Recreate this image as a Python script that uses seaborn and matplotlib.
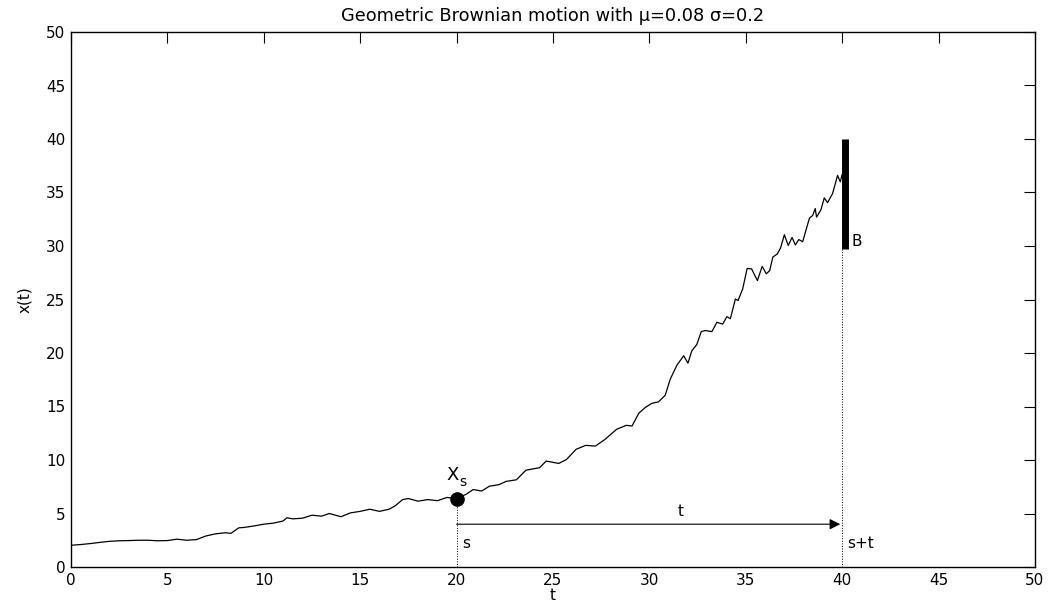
import numpy as np
import pandas as pd
import matplotlib
matplotlib.use("Agg")
import matplotlib.pyplot as plt
import seaborn as sns

# path
t_vals = [0, 0.5, 1, 1.5, 2, 2.5, 3, 3.5, 4, 4.5, 5, 5.5, 6, 6.5, 7, 7.5, 8, 8.3, 8.7, 9,
          9.5, 10, 10.5, 11, 11.2, 11.5, 12, 12.5, 13, 13.4, 14, 14.5, 15, 15.5, 16, 16.5,
          16.8, 17.2, 17.5, 18, 18.5, 19, 19.5, 20, 20.5, 20.86, 21.3, 21.7, 22.2, 22.57,
          23.1, 23.6, 24.3, 24.65, 25.3, 25.7, 26.2, 26.7, 27.2, 27.7, 28.3, 28.8, 29.1,
          29.45, 29.78, 30.13, 30.47, 30.82, 31.08, 31.43, 31.78, 32.0, 32.2, 32.46, 32.69,
          32.9, 33.24, 33.5, 33.8, 34.02, 34.2, 34.46, 34.6, 34.84, 35.07, 35.3, 35.6,
          35.85, 36.06, 36.24, 36.4, 36.64, 36.8, 37.0, 37.2, 37.4, 37.57, 37.75, 37.95,
          38.3, 38.47, 38.6, 38.67, 38.9, 39.07, 39.24, 39.5, 39.76, 39.9, 40.0]
x_vals = [2.03, 2.1, 2.19, 2.3, 2.4, 2.45, 2.47, 2.5, 2.5, 2.45, 2.47, 2.6, 2.5, 2.56, 2.9,
          3.1, 3.2, 3.15, 3.66, 3.7, 3.84, 4.0, 4.1, 4.3, 4.6, 4.5, 4.56, 4.84, 4.75, 5.0,
          4.7, 5.06, 5.2, 5.4, 5.2, 5.4, 5.7, 6.3, 6.4, 6.15, 6.3, 6.2, 6.5, 6.4, 6.8, 7.24,
          7.1, 7.55, 7.7, 8.0, 8.15, 9.05, 9.28, 9.9, 9.68, 10.05, 11.0, 11.37, 11.3, 11.93,
          12.87, 13.24, 13.18, 14.37, 14.9, 15.3, 15.43, 16.05, 17.55, 18.87, 19.74, 19.05,
          20.2, 20.8, 22.0, 22.1, 22.0, 22.87, 22.7, 23.4, 23.2, 25.05, 24.9, 26.0, 27.9,
          27.86, 26.77, 28.1, 27.4, 27.7, 28.96, 29.27, 29.8, 31.05, 30.05, 30.8, 30.1,
          30.6, 30.4, 32.6, 32.86, 33.5, 32.7, 33.4, 34.5, 34.05, 34.9, 36.6, 36.0, 36.7]

s_time = 20
s_value = 6.4
end_time = 40
barrier_low, barrier_high = 29.7, 40
arrow_level = 4.0
ticks = list(range(0, 55, 5))

sns.set_theme(style="white")
plt.rcParams['font.family'] = ['DejaVu Sans']
plt.rcParams['text.color'] = 'black'
plt.rcParams['axes.labelcolor'] = 'black'
plt.rcParams['xtick.color'] = 'black'
plt.rcParams['ytick.color'] = 'black'

fig = plt.figure(figsize=(10.57, 6.10), dpi=100)
ax = fig.add_axes([71 / 1057, 43 / 610, 964 / 1057, 535 / 610])

data = pd.DataFrame({"t": t_vals, "x": x_vals})
sns.lineplot(data=data, x="t", y="x", color="black", linewidth=0.9, ax=ax)

# point X_s and barrier B
ax.plot([s_time], [s_value], marker="o", markersize=9.5, color="black")
ax.plot([end_time + 0.12, end_time + 0.12], [barrier_low, barrier_high], color="black",
        linewidth=5, solid_capstyle="butt")
ax.plot([s_time, s_time], [0, s_value], color="black", linestyle=":", linewidth=0.7)
ax.plot([end_time, end_time], [0, barrier_low], color="black", linestyle=":", linewidth=0.7)
ax.annotate("", xy=(end_time - 0.1, arrow_level), xytext=(s_time, arrow_level),
            arrowprops=dict(arrowstyle="-|>", color="black", lw=0.8,
                            mutation_scale=16, shrinkA=0, shrinkB=0))

ax.text(s_time - 0.55, s_value + 1.35, "X", fontsize=13, ha="left", va="bottom")
ax.text(s_time + 0.15, s_value + 0.85, "s", fontsize=10, ha="left", va="bottom")
ax.text(31.6, arrow_level + 0.45, "t", fontsize=11, ha="center", va="bottom")
ax.text(s_time + 0.3, 2.2, "s", fontsize=11, ha="left", va="center")
ax.text(end_time + 0.25, 2.2, "s+t", fontsize=11, ha="left", va="center")
ax.text(end_time + 0.5, 30.4, "B", fontsize=11, ha="left", va="center")

ax.set_xlim(0, 50)
ax.set_ylim(0, 50)
ax.set_xticks(ticks)
ax.set_yticks(ticks)
ax.tick_params(axis="both", which="both", direction="in", length=8, width=0.8,
               top=True, right=True, labelsize=11, color="black", labelcolor="black", pad=4)
for sp in ax.spines.values():
    sp.set_color("black")
    sp.set_linewidth(1.0)

ax.set_xlabel("t", fontsize=11, labelpad=0)
ax.set_ylabel("x(t)", fontsize=11, labelpad=10)
ax.set_title("Geometric Brownian motion with \u03bc=0.08 \u03c3=0.2", fontsize=12.8, pad=8)

fig.savefig("out.png", dpi=100)
